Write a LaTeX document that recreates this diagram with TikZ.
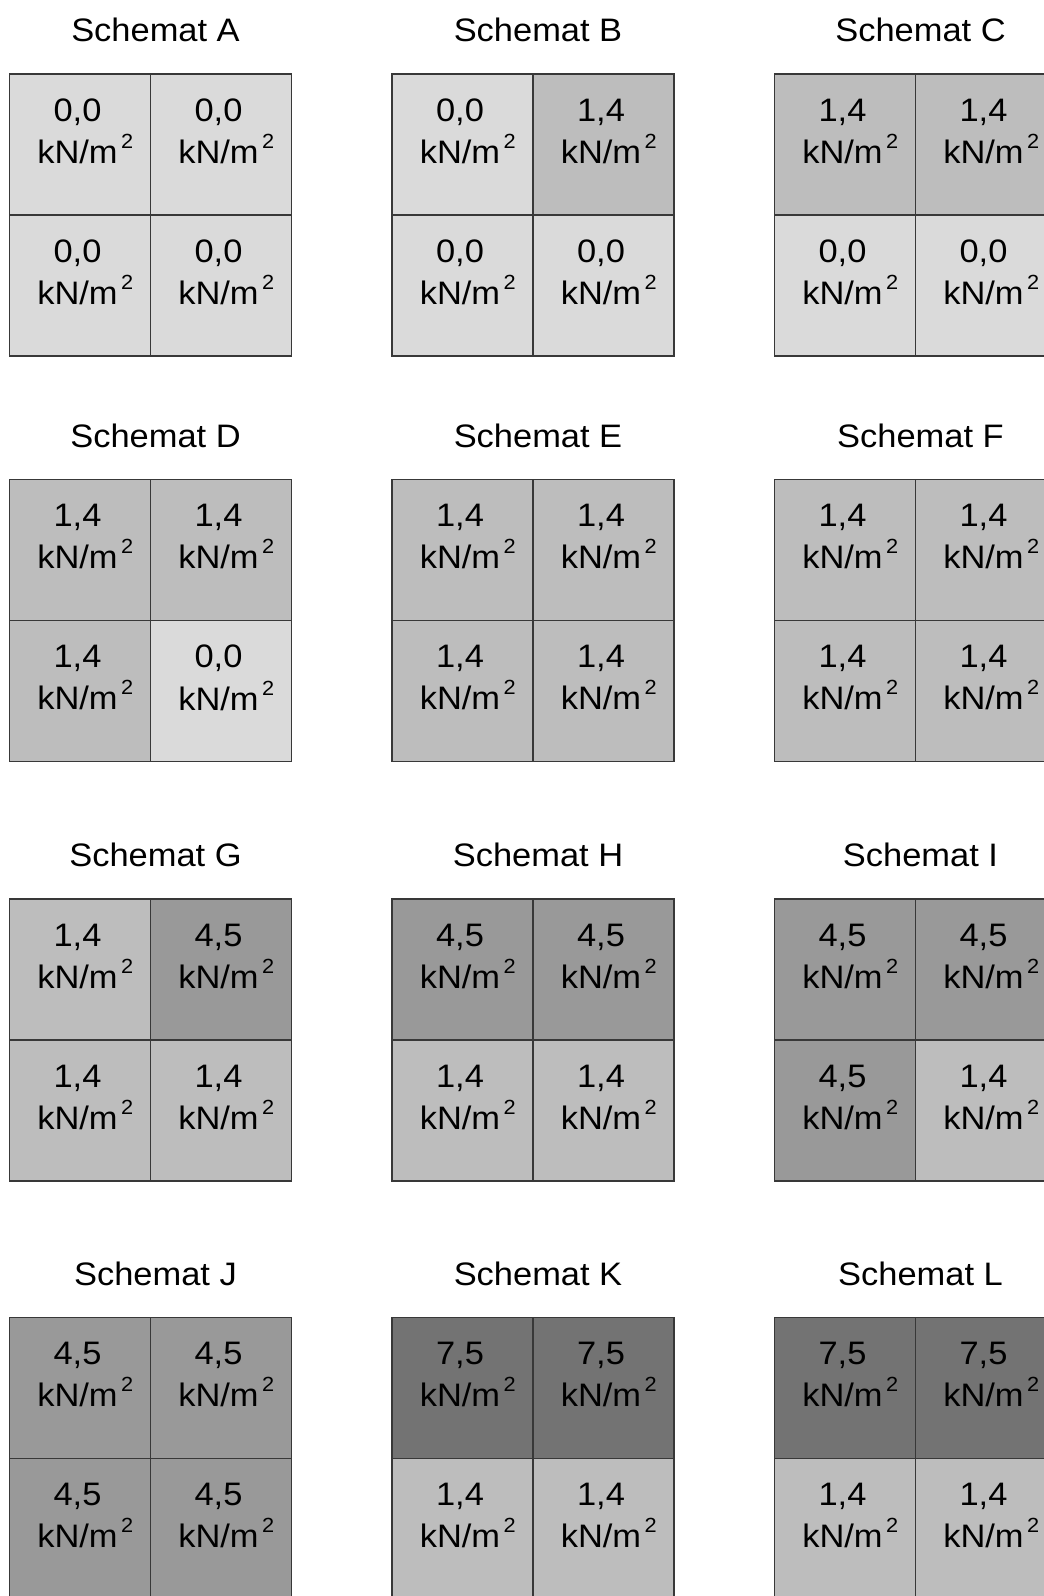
\documentclass[tikz,border=0pt]{standalone}
\usepackage{fontspec}
\setmainfont[FakeStretch=1.06]{Liberation Sans}
\definecolor{c00}{HTML}{DADADA}
\definecolor{c14}{HTML}{BDBDBD}
\definecolor{c45}{HTML}{999999}
\definecolor{c75}{HTML}{737373}
\definecolor{kreska}{HTML}{383838}
\newcommand{\lv}[2]{#1,#2}
\newcommand{\jedn}{kN/m\rlap{\kern3.5pt\raisebox{15pt}{\fontsize{20.5}{20.5}\selectfont 2}}}

\begin{document}
\begin{tikzpicture}[x=1pt, y=-1pt, line width=1.5pt,
  tytul/.style={anchor=base, font=\fontsize{32.5}{38}\selectfont},
  opis/.style={align=center, inner sep=0pt, font=\fontsize{32.5}{42.3}\selectfont}]
  \useasboundingbox (0,0) rectangle (1044,1596);
  \clip (0,0) rectangle (1044,1596);
  % x, y (lewy gorny rog), litera, pola: lg/pg/ld/pd
  \foreach \x/\y/\n/\a/\b/\c/\d in {
      9.5/74/A/00/00/00/00, 392/74/B/00/14/00/00, 774.5/74/C/14/14/00/00,
      9.5/479.5/D/14/14/14/00, 392/479.5/E/14/14/14/14, 774.5/479.5/F/14/14/14/14,
      9.5/899/G/14/45/14/14, 392/899/H/45/45/14/14, 774.5/899/I/45/45/45/14,
      9.5/1317.5/J/45/45/45/45, 392/1317.5/K/75/75/14/14, 774.5/1317.5/L/75/75/14/14} {
    \node[tytul] (t\n) at (\x+146,\y-32.5) {Schemat \n};
    % pola
    \fill[c\a] (\x,\y) rectangle ++(141,141);
    \fill[c\b] (\x+141,\y) rectangle ++(141,141);
    \fill[c\c] (\x,\y+141) rectangle ++(141,141);
    \fill[c\d] (\x+141,\y+141) rectangle ++(141,141);
    \draw[kreska] (\x,\y) rectangle ++(282,282);
    \draw[kreska] (\x+141,\y) -- ++(0,282);
    \draw[kreska] (\x,\y+141) -- ++(282,0);
    % obciazenia
    \node[opis] (\n1) at (\x+68,\y+57.2) {\expandafter\lv\a\\\jedn};
    \node[opis] (\n2) at (\x+209,\y+57.2) {\expandafter\lv\b\\\jedn};
    \node[opis] (\n3) at (\x+68,\y+198.2) {\expandafter\lv\c\\\jedn};
    \node[opis] (\n4) at (\x+209,\y+198.2) {\expandafter\lv\d\\\jedn};
  }
\end{tikzpicture}
\end{document}
